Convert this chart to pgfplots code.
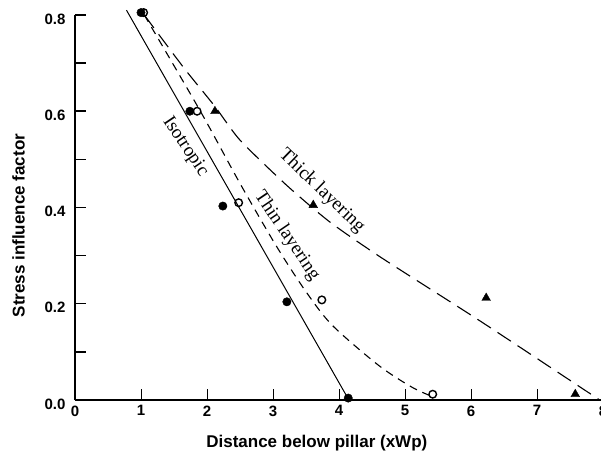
\documentclass[border=0pt]{standalone}
\usepackage{fontspec}
\setmainfont{Liberation Serif}
\setsansfont{Liberation Sans}
\usepackage{pgfplots}
\pgfplotsset{compat=1.18}
\begin{document}
\begin{tikzpicture}
\begin{axis}[
  scale only axis, width=528pt, height=385pt,
  xmin=0, xmax=8, ymin=0, ymax=0.8,
  axis lines=left,
  x axis line style={-, line width=2pt},
  y axis line style={-, line width=1.5pt},
  clip=false,
  xtick={0,1,...,8},
  ytick={0,0.2,0.4,0.6,0.8},
  minor ytick={0.1,0.3,0.5,0.7},
  tick align=inside,
  major tick length=11pt, minor tick length=11pt,
  ytick style={line width=1.5pt, black},
  minor tick style={line width=1.5pt, black},
  xtick style={line width=0.7pt, black},
  /pgf/number format/assume math mode=true,
  yticklabel style={/pgf/number format/fixed, /pgf/number format/fixed zerofill, /pgf/number format/precision=1, xshift=-6pt, yshift=-4pt},
  ticklabel style={font=\sffamily\bfseries\fontsize{15}{15}\selectfont},
  xticklabel style={yshift=-2pt},
  xlabel={Distance below pillar (xWp)},
  ylabel={Stress influence factor},
  label style={font=\sffamily\bfseries\fontsize{17}{17}\selectfont},
  xlabel style={at={(axis description cs:0.458,-0.112)}, anchor=center},
  ylabel style={at={(axis description cs:-0.107,0.453)}, anchor=center},
]
\coordinate (bl) at (rel axis cs:0,0);
\coordinate (tr) at (rel axis cs:1,1);
% Isotropic fit line
\addplot[black, line width=1pt] coordinates {(0.78,0.81) (4.15,0.0)};
% Thin layering
\addplot[black, line width=1.1pt, dash pattern=on 8pt off 6pt, smooth, tension=0.5] coordinates {
 (1.05,0.80) (1.9,0.60) (2.5,0.45) (3.05,0.32) (3.5,0.225) (3.9,0.155) (4.6,0.072) (5.1,0.027) (5.4,0.008)};
% Thick layering
\addplot[black, line width=1.1pt, dash pattern=on 16pt off 8pt, smooth, tension=0.4] coordinates {
 (1.05,0.80) (1.65,0.69) (2.12,0.61) (2.5,0.54) (3.2,0.447) (3.86,0.37) (4.65,0.295) (6.14,0.164) (7.95,0.0)};
% Isotropic data
\addplot[only marks, mark=*, mark size=4.2pt, black] coordinates {
 (1.0,0.805) (1.74,0.60) (2.24,0.403) (3.21,0.204) (4.14,0.004)};
% Thin layering data
\addplot[only marks, mark=o, mark size=3.8pt, black, mark options={line width=1.4pt, fill=white}] coordinates {
 (1.04,0.805) (1.85,0.60) (2.48,0.41) (3.74,0.208) (5.42,0.012)};
% Thick layering data
\addplot[only marks, mark=triangle*, mark size=5pt, black] coordinates {
 (2.12,0.60) (3.61,0.405) (6.23,0.212) (7.58,0.012)};
\node[rotate=-56, font=\fontsize{19}{19}\selectfont] at (axis cs:1.67,0.526) {Isotropic};
\node[rotate=-56, font=\fontsize{19}{19}\selectfont] at (axis cs:3.21,0.341) {Thin layering};
\node[rotate=-44, font=\fontsize{19}{19}\selectfont] at (axis cs:3.74,0.434) {Thick layering};
\end{axis}
\pgfresetboundingbox
\path[use as bounding box] ([shift={(-75pt,-54pt)}]bl) rectangle ([shift={(-2pt,15pt)}]tr);
\end{tikzpicture}
\end{document}
